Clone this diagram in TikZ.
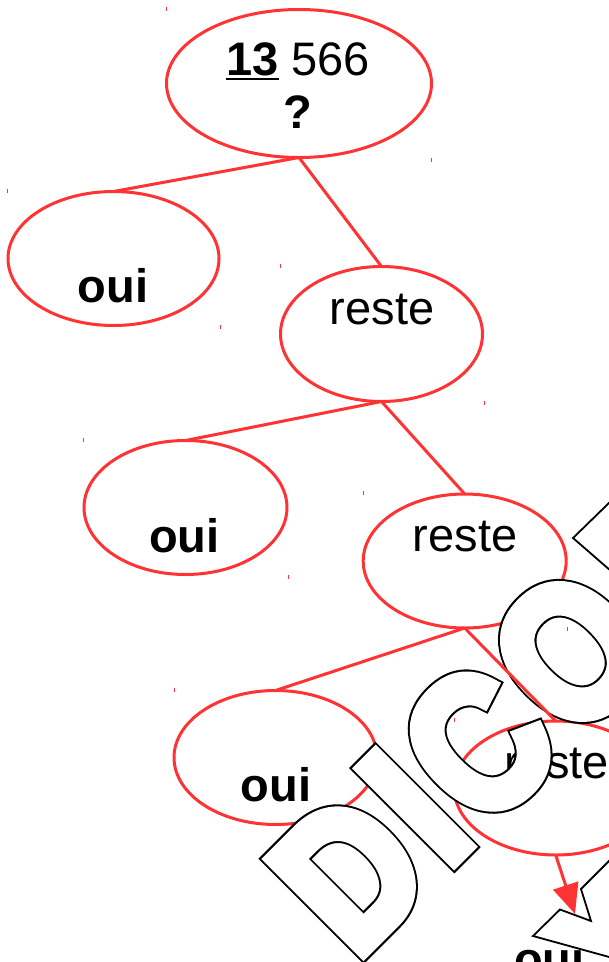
\documentclass[tikz,border=0pt]{standalone}
\usepackage{fontspec}
\setmainfont{Liberation Sans}
% heavy faces for the stamp: a wider black rim under a white face
\newfontfamily\stamprim{Liberation Sans Bold}[FakeBold=8.52]
\newfontfamily\stampface{Liberation Sans Bold}[FakeBold=6.23]
\usetikzlibrary{arrows.meta,shapes.geometric,calc}
\definecolor{treered}{RGB}{255,51,51}
\tikzset{
  bubble/.style={draw=treered, line width=3pt, ellipse, minimum width=203pt,
    minimum height=134pt, inner sep=0pt, outer sep=0pt},
  word/.style={inner sep=0pt, anchor=base, font=\fontsize{47}{56}\selectfont},
  boldword/.style={word, font=\fontsize{47}{56}\selectfont\bfseries},
  link/.style={draw=treered, line width=3pt},
  markline/.style={draw=treered, line width=1pt},
  wmrim/.style={inner sep=0pt, anchor=base west, rotate=45, xscale=0.845,
    text=black, font=\stamprim\fontsize{192.5}{192.5}\selectfont},
  wmface/.style={inner sep=0pt, anchor=base west, rotate=45, xscale=0.845,
    text=white, font=\stampface\fontsize{192.5}{192.5}\selectfont},
  wmedge/.style={draw=black, line width=1.8pt, line join=miter},
}
% outlined letter of the stamp
\newcommand\stampletter[3]{%
  \node[wmrim] (#1-rim) at (#2) {#3};
  \node[wmface] (#1) at (#2) {#3};
}
\begin{document}
\begin{tikzpicture}[x=1pt,y=-1pt]
\useasboundingbox[fill=white] (0,0) rectangle (609,962);

% small corner marks
\foreach \p in {(166.5,8.5),(431.5,160),(7.5,190.5),(220,326.5),(280,265.5),
  (484,403),(83,439.5),(288,576.5),(363,493),(567,629),(174,689.5),(454,719.5)}
  \draw[markline] \p ++(0,-2) -- ++(0,4);

% tree nodes
\node[bubble, minimum width=265pt, minimum height=148pt] (root) at (299,83.5) {};
\node[bubble, minimum width=211pt] (y1) at (113.5,258.5) {};
\node[bubble, minimum width=202pt, minimum height=135pt] (r1) at (381.5,334) {};
\node[bubble] (y2) at (185.5,507.5) {};
\node[bubble] (r2) at (464.7,561) {};
\node[bubble] (y3) at (275.5,757.5) {};
\node[bubble] (r3) at (555.7,788) {};
\coordinate (a4) at (575,914);

% texts
\node[boldword, anchor=base west] (n13) at (226,75) {13};
\node[word, anchor=base west] (n566) at (291.4,75) {566};
\draw[line width=2.4pt] ([yshift=-4pt]n13.base west) -- ([yshift=-4pt]n13.base east);
\node[boldword] (qm) at (298,128) {?};
\node[boldword] (t1) at (113,302) {oui};
\node[word] (t2) at (382,324) {reste};
\node[boldword] (t3) at (184.5,552) {oui};
\node[word] (t4) at (465,551) {reste};
\node[boldword] (t5) at (276,801.5) {oui};
\node[word] (t6) at (556.5,778) {reste};
\node[boldword] (t7) at (549.5,975) {oui};

% stamp
\coordinate (wD) at (355.0,961.1);
\coordinate (wI) at (445.6,870.5);
\coordinate (wC) at (483.4,832.6);
\coordinate (wO) at (572.8,743.2);
\stampletter{sD}{wD}{D}
\stampletter{sI}{wI}{I}
\stampletter{sC}{wC}{C}
\stampletter{sO}{wO}{O}
\fill[white] (609,503) -- (573,538) -- (609,569) -- cycle;
\draw[wmedge] (611,501) -- (573,538) -- (611,571);
\fill[white] (533,936) -- (560,909.5) -- (591,921) -- (581,889) -- (609,861) -- (609,957) -- cycle;
\draw[wmedge] (611,957.5) -- (533,936) -- (560,909.5) -- (591,921) -- (581,889) -- (611,859);

% connectors
\draw[link] (root.south) -- (y1.north);
\draw[link] (root.south) -- (r1.north);
\draw[link] (r1.south) -- (y2.north);
\draw[link] (r1.south) -- (r2.north);
\draw[link] (r2.south) -- (y3.north);
\draw[link] (r2.south) -- (r3.north);
\draw[link, -{Triangle[length=30pt,width=26pt]}] (r3.south) -- (a4);
\end{tikzpicture}
\end{document}
